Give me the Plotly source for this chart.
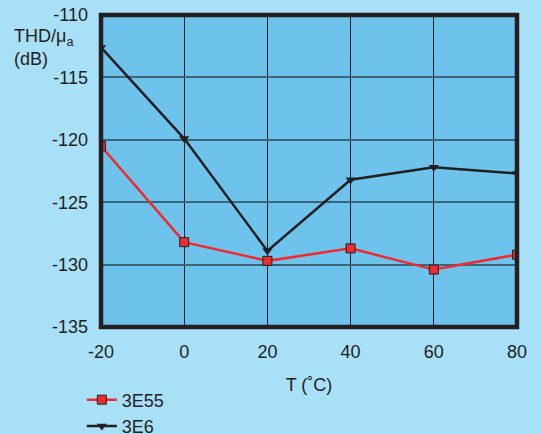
import plotly.graph_objects as go

temps = [-20, 0, 20, 40, 60, 80]
thd_3e55 = [-120.5, -128.2, -129.7, -128.7, -130.4, -129.2]
thd_3e6 = [-112.6, -119.9, -128.9, -123.2, -122.2, -122.7]
x_ticks = [-20, 0, 20, 40, 60, 80]
x_labels = ["-20", "0", "20", "40", "60", "80"]
y_ticks = [-135, -130, -125, -120, -115, -110]
y_labels = ["-135", "-130", "-125", "-120", "-115", "-110"]

FONT = "Liberation Sans, Arial, sans-serif"

fig = go.Figure()
fig.add_trace(go.Scatter(
    x=temps, y=thd_3e55, name="3E55", mode="lines+markers",
    line=dict(color="#ee2b2e", width=2.5),
    marker=dict(symbol="square", size=9, color="#ee2b2e",
                line=dict(color="#231f20", width=1)),
))
fig.add_trace(go.Scatter(
    x=temps, y=thd_3e6, name="3E6", mode="lines+markers",
    line=dict(color="#231f20", width=2.5),
    marker=dict(symbol="triangle-down", size=9, color="#231f20"),
))

fig.update_layout(
    width=542, height=434,
    margin=dict(l=101, r=25, t=15, b=107, autoexpand=False),
    paper_bgcolor="#a8e0f8",
    plot_bgcolor="#6ec3ec",
    font=dict(family=FONT, size=18, color="#231f20"),
    showlegend=True,
    legend=dict(xref="container", yref="container",
                x=0.151, y=0.121, xanchor="left", yanchor="top",
                bgcolor="rgba(0,0,0,0)", font=dict(size=18),
                tracegroupgap=0, itemwidth=30),
    xaxis=dict(range=[-20, 80], tickvals=x_ticks, ticktext=x_labels,
               showgrid=True, automargin=False,
               gridcolor="#231f20", gridwidth=1, zeroline=False,
               ticks="", ticklabelstandoff=12,
               title=dict(text="T (˚C)", standoff=17, font=dict(size=18))),
    yaxis=dict(range=[-135, -110], tickvals=y_ticks, ticktext=y_labels,
               showgrid=True, automargin=False,
               gridcolor="#3b6678", gridwidth=1.5, zeroline=False,
               ticks="", ticklabelstandoff=12),
    annotations=[
        dict(text="THD/μ<sub>a</sub><br>(dB)", xref="paper", yref="paper",
             x=-0.215, y=0.97, xanchor="left", yanchor="top",
             showarrow=False, align="left", font=dict(size=18)),
    ],
    shapes=[
        dict(type="rect", xref="paper", yref="paper", x0=0, y0=0, x1=1, y1=1,
             line=dict(color="#231f20", width=4.5), layer="above"),
    ],
)

fig.write_html("out.html", config={"displayModeBar": False},
               post_script="document.body.style.margin='0';document.body.style.overflow='hidden';")
